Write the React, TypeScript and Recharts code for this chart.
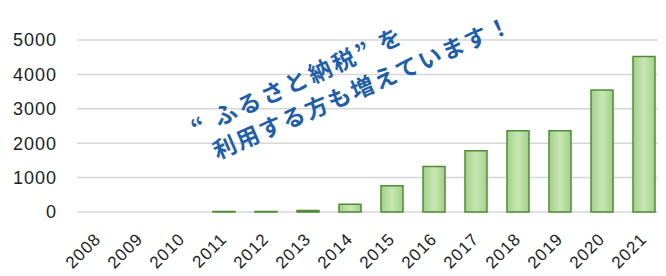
import React from 'react';
import { BarChart, Bar, XAxis, YAxis, CartesianGrid } from 'recharts';

const years = ['2008', '2009', '2010', '2011', '2012', '2013', '2014', '2015', '2016', '2017', '2018', '2019', '2020', '2021'];
const amounts = [0, 0, 0, 15, 15, 45, 225, 765, 1320, 1780, 2365, 2360, 3545, 4520];
const yTicks = [0, 1000, 2000, 3000, 4000, 5000];
const noteLine1 = '“ ふるさと納税” を';
const noteLine2 = '利用する方も増えています！';

const data = years.map((y, i) => ({ year: y, value: amounts[i] }));

const FONT = '"Liberation Sans", "Open Sans", sans-serif';

const XTick = (props: any) => {
  const { x, y, payload } = props;
  const ax = x + 4;
  const ay = y + 20;
  return (
    <text
      x={ax}
      y={ay}
      textAnchor="end"
      transform={`rotate(-45, ${ax}, ${ay})`}
      fontFamily={FONT}
      fontSize={17}
      letterSpacing={1}
      fill="#222"
    >
      {payload.value}
    </text>
  );
};

export default function App() {
  return (
    <div style={{ position: 'relative', width: 666, height: 276, marginLeft: -8, marginTop: -8, background: '#fff', overflow: 'hidden' }}>
      <BarChart width={666} height={276} data={data} margin={{ top: 40, right: 1, left: 0, bottom: 0 }} barSize={22}>
        <defs>
          <linearGradient id="barFill" x1="0" y1="0" x2="1" y2="0">
            <stop offset="0%" stopColor="#a2d188" />
            <stop offset="50%" stopColor="#c8e6b4" />
            <stop offset="100%" stopColor="#a2d188" />
          </linearGradient>
        </defs>
        <CartesianGrid vertical={false} stroke="#d6d6d6" strokeWidth={1.5} />
        <XAxis
          dataKey="year"
          interval={0}
          tickLine={false}
          axisLine={false}
          height={64}
          tick={<XTick />}
        />
        <YAxis
          domain={[0, 5000]}
          ticks={yTicks}
          width={77}
          tickLine={false}
          axisLine={false}
          tickMargin={14}
          tick={{ fontFamily: FONT, fontSize: 18, fill: '#222', letterSpacing: 1 }}
        />
        <Bar dataKey="value" fill="url(#barFill)" stroke="#4f8c33" strokeWidth={1.5} isAnimationActive={false} />
      </BarChart>
      <svg width={666} height={276} style={{ position: 'absolute', left: 0, top: 0, pointerEvents: 'none' }}>
        <g fontFamily='"Noto Sans CJK JP", sans-serif' fontWeight={700} fill="#1f5ea8" fontSize={23} letterSpacing={2}>
          <text x={297} y={80} textAnchor="middle" dominantBaseline="central" letterSpacing={3} transform="rotate(-24.5, 297, 80)">
            {noteLine1}
          </text>
          <text x={362} y={86} textAnchor="middle" dominantBaseline="central" transform="rotate(-23.5, 362, 86)">
            {noteLine2}
          </text>
        </g>
      </svg>
    </div>
  );
}
